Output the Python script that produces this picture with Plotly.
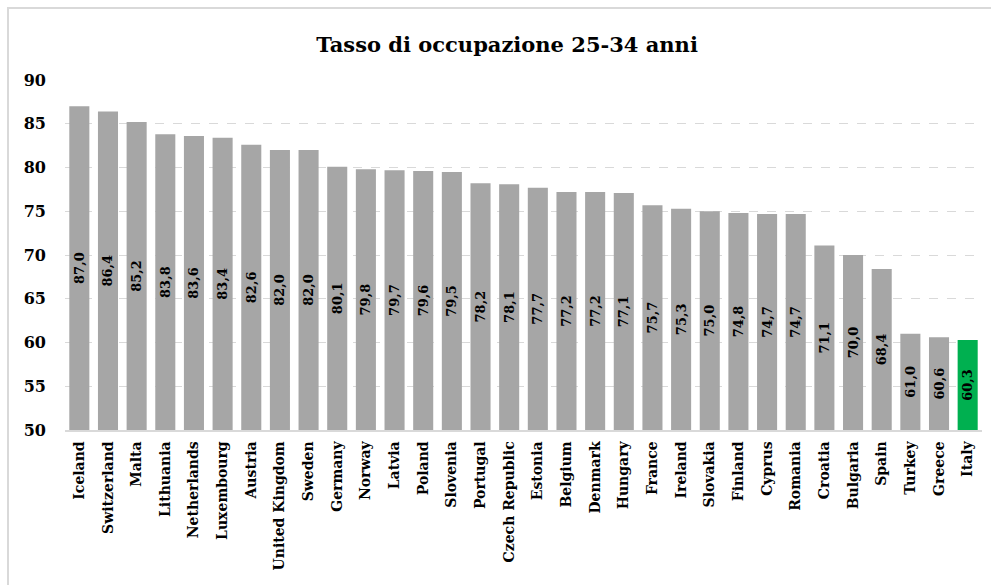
import plotly.graph_objects as go

countries = ["Iceland", "Switzerland", "Malta", "Lithuania", "Netherlands", "Luxembourg",
             "Austria", "United Kingdom", "Sweden", "Germany", "Norway", "Latvia", "Poland",
             "Slovenia", "Portugal", "Czech Republic", "Estonia", "Belgium", "Denmark",
             "Hungary", "France", "Ireland", "Slovakia", "Finland", "Cyprus", "Romania",
             "Croatia", "Bulgaria", "Spain", "Turkey", "Greece", "Italy"]
values = [87.0, 86.4, 85.2, 83.8, 83.6, 83.4, 82.6, 82.0, 82.0, 80.1, 79.8, 79.7, 79.6,
          79.5, 78.2, 78.1, 77.7, 77.2, 77.2, 77.1, 75.7, 75.3, 75.0, 74.8, 74.7, 74.7,
          71.1, 70.0, 68.4, 61.0, 60.6, 60.3]
highlight = "Italy"
y_ticks = [50, 55, 60, 65, 70, 75, 80, 85, 90]
y_min, y_max = 50, 90
title_text = "Tasso di occupazione 25-34 anni"

GRAY = "#A6A6A6"
GREEN = "#00B050"
colors = [GREEN if c == highlight else GRAY for c in countries]
FONT = "DejaVu Serif"

W, H = 991, 585
ml, mr, mt, mb = 65, 9, 80, 155

labels = [f"{v:.1f}".replace(".", ",") for v in values]

fig = go.Figure(go.Bar(
    x=countries, y=[v - y_min for v in values], base=y_min,
    customdata=values,
    hovertemplate="%{x}: %{customdata}<extra></extra>",
    marker=dict(color=colors, line=dict(width=0)),
    text=labels, textposition="inside", insidetextanchor="middle",
    textangle=-90, constraintext="none",
    textfont=dict(family=FONT, size=13, color="black", weight="bold"),
))

pw = W - ml - mr
ph = H - mt - mb
fig.add_shape(type="rect", xref="paper", yref="paper",
              x0=(8 - ml) / pw, x1=(W + 5 - ml) / pw,
              y0=-(H + 5 - mt - ph) / ph, y1=1 + (mt - 8) / ph,
              line=dict(color="#D9D9D9", width=2), fillcolor="rgba(0,0,0,0)", layer="below")

fig.update_layout(
    width=W, height=H,
    margin=dict(l=ml, r=mr, t=mt, b=mb, pad=0),
    paper_bgcolor="white", plot_bgcolor="white",
    bargap=0.3,
    showlegend=False,
    title=dict(text=title_text, x=507 / W, xref="container", xanchor="center",
               y=1 - 45 / H, yref="container", yanchor="middle",
               font=dict(family=FONT, size=21, color="black", weight="bold")),
    xaxis=dict(tickangle=-90, tickfont=dict(family=FONT, size=14, color="black", weight="bold"),
               showline=True, linecolor="#D9D9D9", linewidth=1.5, ticks="",
               showgrid=False, ticklabelstandoff=4),
    yaxis=dict(range=[y_min, y_max], tickvals=y_ticks, showline=False, zeroline=False,
               showgrid=True, gridcolor="#D9D9D9", griddash="dash", gridwidth=1,
               tickfont=dict(family=FONT, size=16, color="black", weight="bold"),
               ticklabelstandoff=18),
)

fig.write_html("out.html")
